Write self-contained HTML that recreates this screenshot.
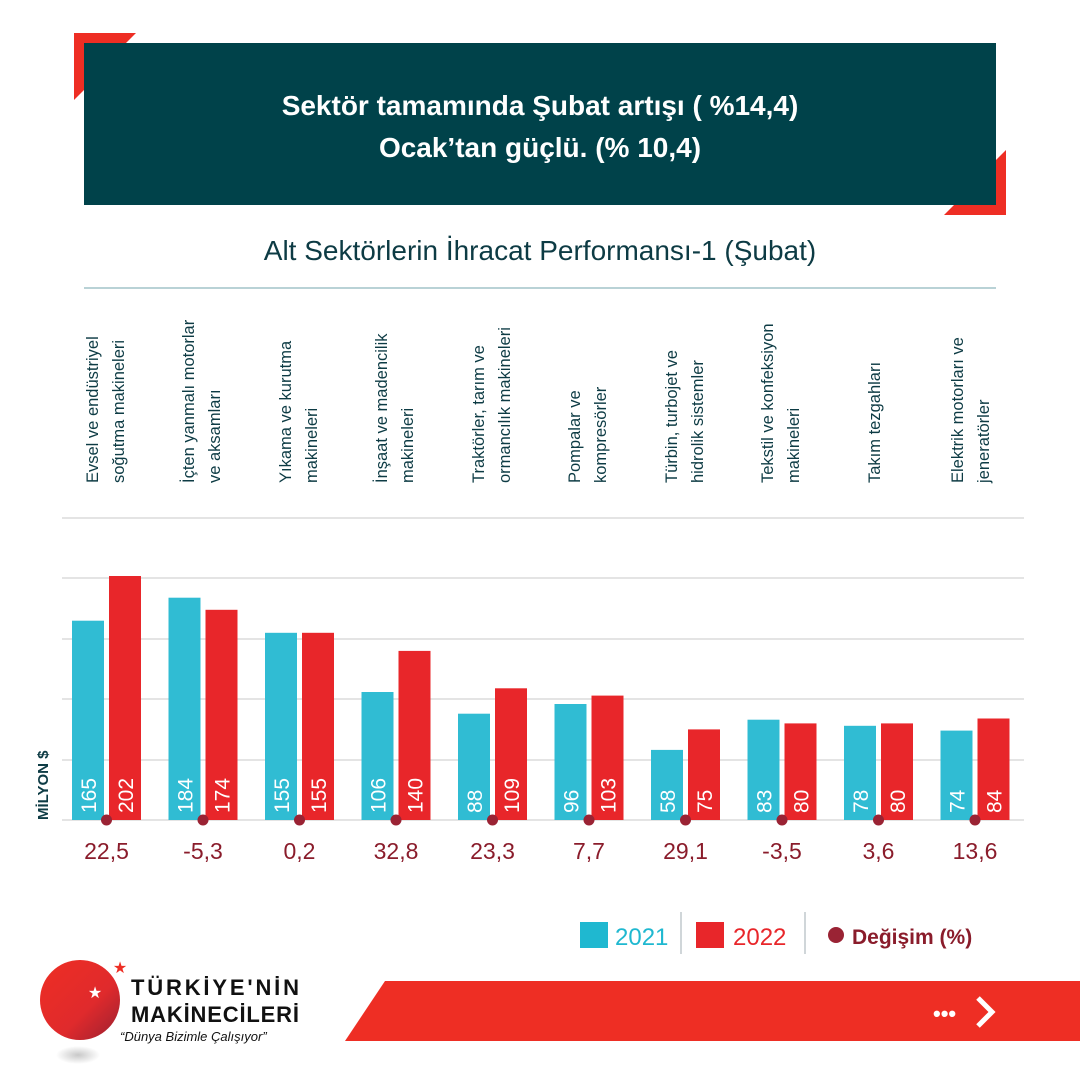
<!DOCTYPE html>
<html><head><meta charset="utf-8"><style>
html,body{margin:0;padding:0;background:#fff}
svg{display:block}
text{font-family:"Liberation Sans",sans-serif}
</style></head><body>
<svg width="1080" height="1080" viewBox="0 0 1080 1080" xmlns="http://www.w3.org/2000/svg">
<rect width="1080" height="1080" fill="#fff"/>
<polygon points="74,33 136,33 126,43 84,43 84,90 74,100" fill="#ee2e24"/>
<polygon points="1006,215 944,215 954,205 996,205 996,160 1006,150" fill="#ee2e24"/>
<rect x="84" y="43" width="912" height="162" fill="#00424a"/>
<text x="540" y="115" text-anchor="middle" fill="#fff" font-size="28" font-weight="bold">Sektör tamamında Şubat artışı ( %14,4)</text>
<text x="540" y="157" text-anchor="middle" fill="#fff" font-size="28" font-weight="bold">Ocak’tan güçlü. (% 10,4)</text>
<text x="540" y="260" text-anchor="middle" fill="#0d3b44" font-size="28">Alt Sektörlerin İhracat Performansı-1 (Şubat)</text>
<line x1="84" y1="288" x2="996" y2="288" stroke="#8fb8bd" stroke-width="1.2"/>
<g stroke="#dcdcdc" stroke-width="1.5">
<line x1="62" y1="518" x2="1024" y2="518"/>
<line x1="62" y1="578" x2="1024" y2="578"/>
<line x1="62" y1="639" x2="1024" y2="639"/>
<line x1="62" y1="699" x2="1024" y2="699"/>
<line x1="62" y1="760" x2="1024" y2="760"/>
<line x1="62" y1="820" x2="1024" y2="820"/>
</g>
<text transform="translate(48,820) rotate(-90)" fill="#0d3b44" font-size="15" font-weight="bold">MİLYON $</text>
<g font-size="16.5" fill="#0d3b44">
<text transform="translate(98,483) rotate(-90)">Evsel ve endüstriyel</text>
<text transform="translate(124,483) rotate(-90)">soğutma makineleri</text>
<text transform="translate(194,483) rotate(-90)">İçten yanmalı motorlar</text>
<text transform="translate(220,483) rotate(-90)">ve aksamları</text>
<text transform="translate(291,483) rotate(-90)">Yıkama ve kurutma</text>
<text transform="translate(317,483) rotate(-90)">makineleri</text>
<text transform="translate(387,483) rotate(-90)">İnşaat ve madencilik</text>
<text transform="translate(413,483) rotate(-90)">makineleri</text>
<text transform="translate(484,483) rotate(-90)">Traktörler, tarım ve</text>
<text transform="translate(510,483) rotate(-90)">ormancılık makineleri</text>
<text transform="translate(580,483) rotate(-90)">Pompalar ve</text>
<text transform="translate(606,483) rotate(-90)">kompresörler</text>
<text transform="translate(677,483) rotate(-90)">Türbin, turbojet ve</text>
<text transform="translate(703,483) rotate(-90)">hidrolik sistemler</text>
<text transform="translate(773,483) rotate(-90)">Tekstil ve konfeksiyon</text>
<text transform="translate(799,483) rotate(-90)">makineleri</text>
<text transform="translate(880,483) rotate(-90)">Takım tezgahları</text>
<text transform="translate(963,483) rotate(-90)">Elektrik motorları ve</text>
<text transform="translate(989,483) rotate(-90)">jeneratörler</text>
</g>
<g fill="#30bcd3">
<rect x="72" y="620.7" width="32" height="199.3"/>
<rect x="168.5" y="597.7" width="32" height="222.3"/>
<rect x="265" y="632.8" width="32" height="187.2"/>
<rect x="361.5" y="692" width="32" height="128"/>
<rect x="458" y="713.7" width="32" height="106.3"/>
<rect x="554.5" y="704" width="32" height="116"/>
<rect x="651" y="749.9" width="32" height="70.1"/>
<rect x="747.5" y="719.7" width="32" height="100.3"/>
<rect x="844" y="725.8" width="32" height="94.2"/>
<rect x="940.5" y="730.6" width="32" height="89.4"/>
</g>
<g fill="#e8262a">
<rect x="109" y="576" width="32" height="244"/>
<rect x="205.5" y="609.8" width="32" height="210.2"/>
<rect x="302" y="632.8" width="32" height="187.2"/>
<rect x="398.5" y="650.9" width="32" height="169.1"/>
<rect x="495" y="688.3" width="32" height="131.7"/>
<rect x="591.5" y="695.6" width="32" height="124.4"/>
<rect x="688" y="729.4" width="32" height="90.6"/>
<rect x="784.5" y="723.4" width="32" height="96.6"/>
<rect x="881" y="723.4" width="32" height="96.6"/>
<rect x="977.5" y="718.5" width="32" height="101.5"/>
</g>
<g fill="#fff" font-size="21">
<text transform="translate(96,813) rotate(-90)">165</text><text transform="translate(133,813) rotate(-90)">202</text>
<text transform="translate(192.5,813) rotate(-90)">184</text><text transform="translate(229.5,813) rotate(-90)">174</text>
<text transform="translate(289,813) rotate(-90)">155</text><text transform="translate(326,813) rotate(-90)">155</text>
<text transform="translate(385.5,813) rotate(-90)">106</text><text transform="translate(422.5,813) rotate(-90)">140</text>
<text transform="translate(482,813) rotate(-90)">88</text><text transform="translate(519,813) rotate(-90)">109</text>
<text transform="translate(578.5,813) rotate(-90)">96</text><text transform="translate(615.5,813) rotate(-90)">103</text>
<text transform="translate(675,813) rotate(-90)">58</text><text transform="translate(712,813) rotate(-90)">75</text>
<text transform="translate(771.5,813) rotate(-90)">83</text><text transform="translate(808.5,813) rotate(-90)">80</text>
<text transform="translate(868,813) rotate(-90)">78</text><text transform="translate(905,813) rotate(-90)">80</text>
<text transform="translate(964.5,813) rotate(-90)">74</text><text transform="translate(1001.5,813) rotate(-90)">84</text>
</g>
<g fill="#9a2334">
<circle cx="106.5" cy="820" r="5.5"/><circle cx="203" cy="820" r="5.5"/><circle cx="299.5" cy="820" r="5.5"/><circle cx="396" cy="820" r="5.5"/><circle cx="492.5" cy="820" r="5.5"/><circle cx="589" cy="820" r="5.5"/><circle cx="685.5" cy="820" r="5.5"/><circle cx="782" cy="820" r="5.5"/><circle cx="878.5" cy="820" r="5.5"/><circle cx="975" cy="820" r="5.5"/>
</g>
<g fill="#8a1c2b" font-size="23" text-anchor="middle">
<text x="106.5" y="859">22,5</text><text x="203" y="859">-5,3</text><text x="299.5" y="859">0,2</text><text x="396" y="859">32,8</text><text x="492.5" y="859">23,3</text><text x="589" y="859">7,7</text><text x="685.5" y="859">29,1</text><text x="782" y="859">-3,5</text><text x="878.5" y="859">3,6</text><text x="975" y="859">13,6</text>
</g>
<rect x="580" y="922" width="28" height="26" fill="#1fb8d0"/>
<text x="615" y="945" fill="#1fb8d0" font-size="24">2021</text>
<line x1="681" y1="912" x2="681" y2="954" stroke="#c0c8cc" stroke-width="1.5"/>
<rect x="696" y="922" width="28" height="26" fill="#e8262a"/>
<text x="733" y="945" fill="#e8262a" font-size="24">2022</text>
<line x1="805" y1="912" x2="805" y2="954" stroke="#c0c8cc" stroke-width="1.5"/>
<circle cx="836" cy="935" r="8" fill="#9a2334"/>
<text x="852" y="944" fill="#8a1c2b" font-size="21" font-weight="bold">Değişim (%)</text>
<polygon points="385,981 1080,981 1080,1041 345,1041" fill="#ee2e24"/>
<text x="933" y="1021" fill="#fff" font-size="22" font-weight="bold">•••</text>
<polyline points="978,998 992,1012 978,1026" fill="none" stroke="#fff" stroke-width="5"/>
<defs><linearGradient id="lg" x1="0" y1="0" x2="1" y2="1"><stop offset="0" stop-color="#ee2e24"/><stop offset="0.6" stop-color="#e02a2c"/><stop offset="1" stop-color="#9a2030"/></linearGradient>
<radialGradient id="sh"><stop offset="0" stop-color="#c8c8c8"/><stop offset="1" stop-color="#fff"/></radialGradient></defs>
<ellipse cx="78" cy="1055" rx="22" ry="9" fill="url(#sh)"/>
<ellipse cx="80" cy="1000" rx="40" ry="40" fill="url(#lg)"/>
<text x="95" y="998" fill="#fff" font-size="16" text-anchor="middle">★</text>
<text x="120" y="973" fill="#ee2e24" font-size="16" text-anchor="middle">★</text>
<text x="131" y="995" fill="#111" font-size="22" font-weight="bold" textLength="168">TÜRKİYE'NİN</text>
<text x="131" y="1022" fill="#111" font-size="22" font-weight="bold" textLength="168">MAKİNECİLERİ</text>
<text x="120" y="1041" fill="#111" font-size="13" font-style="italic">“Dünya Bizimle Çalışıyor”</text>
</svg>
</body></html>
